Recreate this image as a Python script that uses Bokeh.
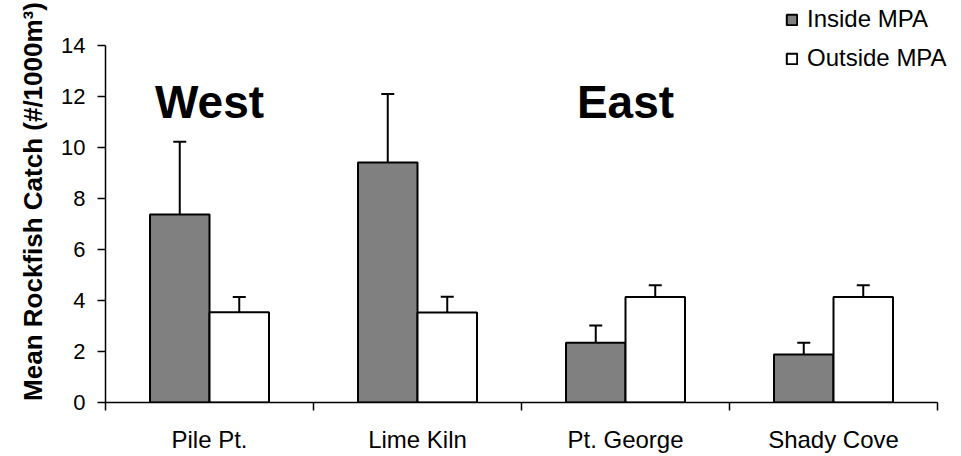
import numpy as np
from bokeh.plotting import figure
from bokeh.models import (ColumnDataSource, Range1d, LinearAxis, FixedTicker,
                          Legend, LegendItem)
from bokeh.transform import dodge
from bokeh.core.properties import value
from bokeh.embed import file_html
from bokeh.resources import INLINE

# ---- data ----
categories = ["Pile Pt.", "Lime Kiln", "Pt. George", "Shady Cove"]
inside_mean = [7.37, 9.41, 2.34, 1.88]
inside_se = [2.86, 2.69, 0.68, 0.46]
outside_mean = [3.54, 3.53, 4.14, 4.14]
outside_se = [0.60, 0.62, 0.46, 0.46]
series_names = ["Inside MPA", "Outside MPA"]
region_labels = ["West", "East"]
region_sites = ["Pile Pt.", "Pt. George"]
y_ticks = [0, 2, 4, 6, 8, 10, 12, 14]

FONT = "Liberation Sans"
BAR_W = 0.286
Y_MAX = 14
# frame reaches the top/right edge of the canvas; axes stop at their bounds
PX_PER_Y = 357 / Y_MAX
PX_PER_CAT = 208

cat_x = np.arange(len(categories)) + 0.5
src = ColumnDataSource(dict(
    x=cat_x,
    in_mean=inside_mean,
    in_top=np.array(inside_mean) + np.array(inside_se),
    out_mean=outside_mean,
    out_top=np.array(outside_mean) + np.array(outside_se),
))
reg_src = ColumnDataSource(dict(
    x=[cat_x[categories.index(s)] for s in region_sites],
    y=[11.8] * len(region_labels),
    text=region_labels,
))

p = figure(width=961, height=456, output_backend="svg", toolbar_location=None,
           x_range=Range1d(0, len(categories) + 24 / PX_PER_CAT),
           y_range=Range1d(0, 402 / PX_PER_Y),
           x_axis_type=None, y_axis_type=None,
           min_border_left=105, min_border_right=0, min_border_top=0,
           min_border_bottom=54)
p.outline_line_color = None
p.xgrid.visible = False
p.ygrid.visible = False
p.background_fill_color = "white"

# axes
xaxis = LinearAxis(ticker=FixedTicker(ticks=list(cat_x),
                                      minor_ticks=list(range(len(categories) + 1))),
                   bounds=(0, len(categories)))
xaxis.major_label_overrides = {float(v): c for v, c in zip(cat_x, categories)}
xaxis.major_tick_out = 0
xaxis.major_tick_in = 0
xaxis.minor_tick_out = 8
xaxis.minor_tick_in = 0
xaxis.minor_tick_line_width = 1.5
xaxis.minor_tick_line_color = "black"
xaxis.axis_line_width = 1.5
xaxis.axis_line_color = "black"
xaxis.major_label_standoff = 15
xaxis.major_label_text_font = FONT
xaxis.major_label_text_font_size = "24px"
xaxis.major_label_text_color = "black"
p.add_layout(xaxis, "below")

yaxis = LinearAxis(ticker=FixedTicker(ticks=y_ticks), bounds=(0, Y_MAX))
yaxis.axis_label = "Mean Rockfish Catch (#/1000m\u00b3)"
yaxis.axis_label_text_font = FONT
yaxis.axis_label_text_font_style = "bold"
yaxis.axis_label_text_font_size = "26px"
yaxis.axis_label_text_color = "black"
yaxis.axis_label_standoff = 10
yaxis.major_tick_out = 8
yaxis.major_tick_in = 0
yaxis.minor_tick_out = 0
yaxis.minor_tick_in = 0
yaxis.major_tick_line_width = 1.5
yaxis.major_tick_line_color = "black"
yaxis.axis_line_width = 1.5
yaxis.axis_line_color = "black"
yaxis.major_label_standoff = 12
yaxis.major_label_text_font = FONT
yaxis.major_label_text_font_size = "22px"
yaxis.major_label_text_color = "black"
p.add_layout(yaxis, "left")

# bars
r_in = p.vbar(x=dodge("x", -BAR_W / 2, range=p.x_range), top="in_mean", bottom=0,
              width=BAR_W, source=src, fill_color="#808080",
              line_color="black", line_width=2)
r_out = p.vbar(x=dodge("x", BAR_W / 2, range=p.x_range), top="out_mean", bottom=0,
               width=BAR_W, source=src, fill_color="white",
               line_color="black", line_width=2)

# error bars (upper only)
for off, m, t in [(-BAR_W / 2, "in_mean", "in_top"), (BAR_W / 2, "out_mean", "out_top")]:
    xd = dodge("x", off, range=p.x_range)
    p.segment(x0=xd, y0=m, x1=xd, y1=t, source=src, line_color="black", line_width=2)
    p.scatter(x=xd, y=t, source=src, marker="dash", size=13,
              line_color="black", line_width=2)

# region labels
p.text(x="x", y="y", text="text", source=reg_src, text_align="center",
       text_baseline="alphabetic", text_font=value(FONT),
       text_font_style="bold", text_font_size="46px", text_color="black")

legend = Legend(items=[LegendItem(label=series_names[0], renderers=[r_in]),
                       LegendItem(label=series_names[1], renderers=[r_out])],
                location=(680, 330), orientation="vertical",
                glyph_width=13, glyph_height=13, label_standoff=9,
                spacing=11, padding=0, margin=0,
                border_line_color=None, background_fill_alpha=0,
                label_text_font=FONT, label_text_font_size="24px",
                label_text_color="black")
p.add_layout(legend)

open("out.html", "w").write(file_html(p, INLINE))
